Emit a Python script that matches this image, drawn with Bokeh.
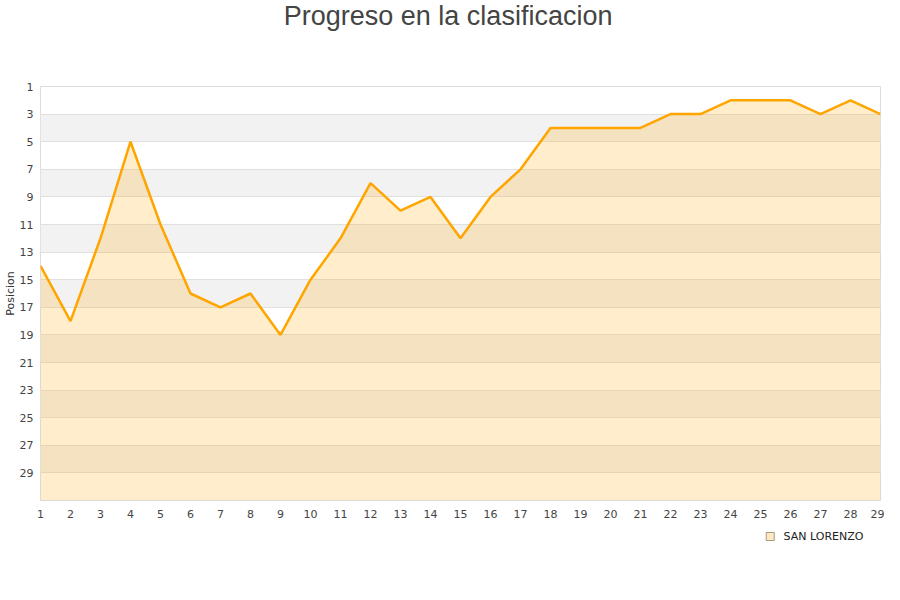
from bokeh.plotting import figure
from bokeh.layouts import column
from bokeh.models import Range1d, FixedTicker, ColumnDataSource
from bokeh.core.properties import value
from bokeh.embed import file_html
from bokeh.resources import INLINE

# ---- data ----
jornadas = list(range(1, 30))
posiciones = [14, 18, 12, 5, 11, 16, 17, 16, 19, 15, 12, 8, 10, 9, 12,
              9, 7, 4, 4, 4, 4, 3, 3, 2, 2, 2, 3, 2, 3]
y_ticks = list(range(1, 30, 2))
x_ticks = list(range(1, 30))
equipo = "SAN LORENZO"
titulo = "Progreso en la clasificacion"
ylabel = "Posicion"
ultima_posicion = 31

src = ColumnDataSource(dict(x=jornadas, y=posiciones,
                            base=[ultima_posicion] * len(jornadas)))

W = 884

# ---- title strip ----
TH = 40
tit = figure(width=W, height=TH, output_backend="svg", toolbar_location=None,
             x_range=Range1d(0, W), y_range=Range1d(TH, 0),
             min_border=0, outline_line_color=None)
tit.axis.visible = False
tit.grid.visible = False
tit.text(x=[256], y=[15], text=[titulo], text_font=value("Liberation Sans"),
         text_font_size="27px", text_color="#444444",
         text_baseline="middle", text_align="left")

# ---- main chart ----
p = figure(width=W, height=490, output_backend="svg", toolbar_location=None,
           x_range=Range1d(jornadas[0], jornadas[-1]),
           y_range=Range1d(ultima_posicion, 1),
           min_border_left=40, min_border_right=4,
           min_border_top=46, min_border_bottom=30)

p.outline_line_color = "#dddddd"
p.background_fill_color = "white"
p.border_fill_color = "white"

p.xgrid.grid_line_color = None
p.ygrid.grid_line_color = "#e0e0e0"
p.ygrid.band_fill_color = "#f2f2f2"
p.ygrid.band_fill_alpha = 1.0

p.xaxis.ticker = FixedTicker(ticks=x_ticks)
p.yaxis.ticker = FixedTicker(ticks=y_ticks)
for ax in (p.xaxis[0], p.yaxis[0]):
    ax.axis_line_color = None
    ax.major_tick_line_color = None
    ax.minor_tick_line_color = None
    ax.major_tick_out = 0
    ax.major_tick_in = 0
    ax.minor_tick_out = 0
    ax.minor_tick_in = 0
    ax.major_label_text_font = "DejaVu Sans"
    ax.major_label_text_font_size = "11px"
    ax.major_label_text_color = "#444444"
p.xaxis.major_label_standoff = 9
p.yaxis.major_label_standoff = 7
p.yaxis.axis_label = ylabel
p.yaxis.axis_label_text_font = "DejaVu Sans"
p.yaxis.axis_label_text_font_size = "11px"
p.yaxis.axis_label_text_font_style = "normal"
p.yaxis.axis_label_text_color = "#333333"
p.yaxis.axis_label_standoff = 0

p.varea(x="x", y1="y", y2="base", source=src, fill_color="#FFA500", fill_alpha=0.2)
p.line(x="x", y="y", source=src, line_color="#FFA500", line_width=2.5)

# ---- legend strip (separate small figure below the chart) ----
LH = 54
leg = figure(width=W, height=LH, output_backend="svg", toolbar_location=None,
             x_range=Range1d(0, W), y_range=Range1d(LH, 0),
             min_border=0, outline_line_color=None)
leg.axis.visible = False
leg.grid.visible = False
leg.scatter(x=[768], y=[6], marker="square", size=8,
            fill_color="#FFE9C4", line_color="#A89A80", line_width=1)
leg.text(x=[782], y=[6], text=[equipo], text_font=value("DejaVu Sans"),
         text_font_size="11px", text_color="#222222",
         text_baseline="middle", text_align="left")

layout = column(tit, p, leg, spacing=0)
open("out.html", "w").write(file_html(layout, INLINE))
